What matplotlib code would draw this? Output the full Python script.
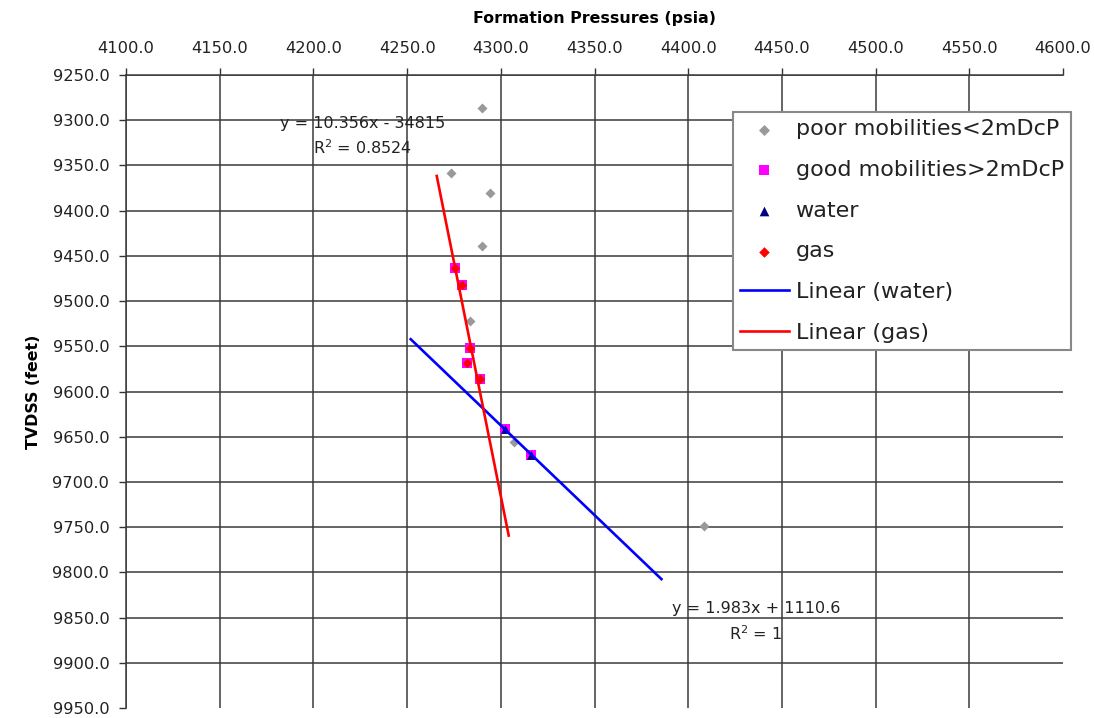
import matplotlib
matplotlib.use("Agg")
import matplotlib.pyplot as plt
import numpy as np

# ---- data ----
poor_p = [4290.1, 4273.2, 4294.0, 4290.1, 4283.7, 4307.0, 4408.6]
poor_d = [9286.8, 9358.7, 9380.9, 9438.8, 9522.1, 9655.6, 9748.9]
good_p = [4275.5, 4279.1, 4283.4, 4281.9, 4288.7, 4302.0, 4316.3]
good_d = [9463.1, 9482.3, 9552.3, 9568.9, 9586.3, 9641.9, 9670.4]
water_p = [4302.0, 4316.3]
water_d = [9641.9, 9670.4]
gas_p = [4275.5, 4279.1, 4283.4, 4281.9, 4288.7]
gas_d = [9463.1, 9482.3, 9552.3, 9568.9, 9586.3]

water_slope, water_icpt = 1.983, 1110.6
gas_slope, gas_icpt = 10.356, -34815.0
water_fit_range = [4251.9, 4385.7]
gas_fit_range = [4265.8, 4304.2]

water_eq = "y = 1.983x + 1110.6\nR$^2$ = 1"
gas_eq = "y = 10.356x - 34815\nR$^2$ = 0.8524"

x_ticks = np.arange(4100, 4601, 50)
y_ticks = np.arange(9250, 9951, 50)

# ---- figure ----
fig = plt.figure(figsize=(10.94, 7.18), dpi=100)
ax = fig.add_axes([0.1152, 0.0139, 0.8565, 0.8816])

ax.set_xlim(4100, 4600)
ax.set_ylim(9950, 9250)
ax.xaxis.tick_top()
ax.xaxis.set_label_position("top")
ax.set_xticks(x_ticks)
ax.set_yticks(y_ticks)
ax.set_xticklabels([f"{v:.1f}" for v in x_ticks])
ax.set_yticklabels([f"{v:.1f}" for v in y_ticks])
ax.tick_params(axis="x", direction="out", length=5, width=1, color="#333", pad=9,
               labelsize=11.7, labelcolor="#222")
ax.tick_params(axis="y", direction="out", length=5, width=1, color="#333", pad=7,
               labelsize=11.7, labelcolor="#222")

ax.grid(True, color="#3a3a3a", linewidth=1.1)
ax.set_axisbelow(True)
fig.canvas.draw()
ax.xaxis.get_gridlines()[-1].set_visible(False)
ax.yaxis.get_gridlines()[-1].set_visible(False)
for s in ["right", "bottom"]:
    ax.spines[s].set_visible(False)
for s in ["left", "top"]:
    ax.spines[s].set_color("#3a3a3a")
    ax.spines[s].set_linewidth(1.1)

ax.set_xlabel("Formation Pressures (psia)", fontsize=11.4, fontweight="bold", labelpad=12.5)
ax.set_ylabel("TVDSS (feet)", fontsize=11.4, fontweight="bold", labelpad=8.5)

# ---- series ----
h_poor = ax.scatter(poor_p, poor_d, marker="D", s=26, color="#999999", zorder=3,
                    label="poor mobilities<2mDcP", linewidths=0)
h_good = ax.scatter(good_p, good_d, marker="s", s=48, color="#ff00ff", zorder=3,
                    label="good mobilities>2mDcP", linewidths=0)
h_water = ax.scatter(water_p, water_d, marker="^", s=40, color="#000080", zorder=4,
                     label="water", linewidths=0)
h_gas = ax.scatter(gas_p, gas_d, marker="D", s=24, color="#ff0000", zorder=4,
                   label="gas", linewidths=0)

wx = np.array(water_fit_range)
gx = np.array(gas_fit_range)
l_w, = ax.plot(wx, water_slope * wx + water_icpt, color="#0000ff", lw=1.9,
               label="Linear (water)", zorder=5)
l_g, = ax.plot(gx, gas_slope * gx + gas_icpt, color="#ff0000", lw=1.9,
               label="Linear (gas)", zorder=5)

# ---- equations ----
ax.text(4226, 9318, gas_eq, ha="center", va="center", fontsize=11.5,
        color="#222", linespacing=1.5, zorder=6)
ax.text(4436, 9855, water_eq, ha="center", va="center", fontsize=11.5,
        color="#222", linespacing=1.5, zorder=6)

leg = ax.legend(handles=[h_poor, h_good, h_water, h_gas, l_w, l_g],
                loc="upper right", bbox_to_anchor=(1.0085, 0.9415),
                fontsize=16, frameon=True, fancybox=False, framealpha=1,
                edgecolor="#888", borderpad=0.33, labelspacing=0.93,
                handlelength=2.2, handletextpad=0.3, markerscale=1.1,
                borderaxespad=0)
leg.get_frame().set_linewidth(1.5)
for t in leg.get_texts():
    t.set_color("#222")

fig.savefig("out.png", dpi=100, facecolor="white")
